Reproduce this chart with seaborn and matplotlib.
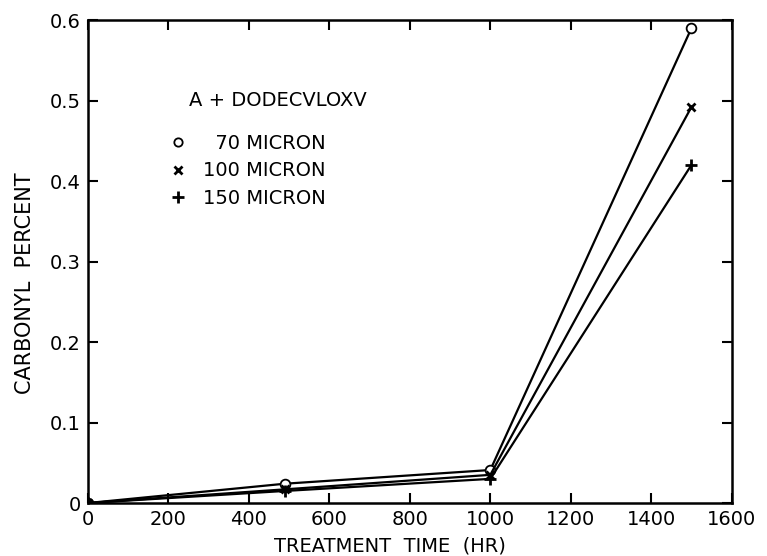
import matplotlib
matplotlib.use("Agg")
import matplotlib.pyplot as plt
from matplotlib.lines import Line2D
import seaborn as sns
import pandas as pd

# Carbonyl content vs treatment time for three film thicknesses
treatment_time = [0, 490, 1000, 1500]
carbonyl_70 = [0.0, 0.024, 0.041, 0.590]
carbonyl_100 = [0.0, 0.017, 0.035, 0.492]
carbonyl_150 = [0.0, 0.015, 0.030, 0.420]
series_labels = ["\u200770 MICRON", "100 MICRON", "150 MICRON"]
legend_title = "A + DODECVLOXV"
x_ticks = [0, 200, 400, 600, 800, 1000, 1200, 1400, 1600]
y_ticks = [0, 0.1, 0.2, 0.3, 0.4, 0.5, 0.6]
y_tick_labels = ["0", "0.1", "0.2", "0.3", "0.4", "0.5", "0.6"]

sns.set_theme(style="ticks")
plt.rcParams["font.family"] = ["DejaVu Sans"]
plt.rcParams["text.color"] = "black"
plt.rcParams["axes.labelcolor"] = "black"

fig = plt.figure(figsize=(7.67, 5.56), dpi=100)
ax = fig.add_axes([0.1147, 0.0953, 0.8393, 0.8687])

styles = [
    dict(marker="o", markersize=7, markerfacecolor="white", markeredgecolor="black", markeredgewidth=1.3),
    dict(marker="x", markersize=6, markeredgecolor="black", markeredgewidth=2.0),
    dict(marker="+", markersize=8, markeredgecolor="black", markeredgewidth=2.0),
]
for values, st in zip([carbonyl_70, carbonyl_100, carbonyl_150], styles):
    df = pd.DataFrame({"time": treatment_time, "carbonyl": values})
    sns.lineplot(data=df, x="time", y="carbonyl", ax=ax, color="black",
                 linewidth=1.6, legend=False, **st)

ax.set_xlim(0, 1600)
ax.set_ylim(0, 0.6)
ax.set_xticks(x_ticks)
ax.set_xticklabels([str(t) for t in x_ticks])
ax.set_yticks(y_ticks)
ax.set_yticklabels(y_tick_labels)
ax.tick_params(direction="in", length=7, width=1.5, top=True, right=True,
               labelsize=14, colors="black", pad=5)
for side in ["left", "right", "top", "bottom"]:
    ax.spines[side].set_visible(True)
    ax.spines[side].set_linewidth(1.8)
    ax.spines[side].set_color("black")

ax.set_xlabel("TREATMENT  TIME  (HR)", fontsize=14, labelpad=4, color="black")
ax.xaxis.set_label_coords(0.469, -0.07)
ax.set_ylabel("CARBONYL  PERCENT", fontsize=15, labelpad=10, color="black")
ax.yaxis.set_label_coords(-0.082, 0.455)

# Legend: group heading plus marker-only entries
ax.text(0.157, 0.834, legend_title, transform=ax.transAxes, fontsize=14,
        ha="left", va="center", color="black")
handles = [Line2D([], [], linestyle="none", color="black", **st) for st in styles]
handles[0].set_markersize(6)
leg = ax.legend(handles, series_labels, frameon=False,
                loc="upper left", bbox_to_anchor=(0.094, 0.785), fontsize=14,
                handletextpad=0.3, labelspacing=0.45, borderpad=0)
for t in leg.get_texts():
    t.set_color("black")

fig.savefig("out.png", dpi=100)
